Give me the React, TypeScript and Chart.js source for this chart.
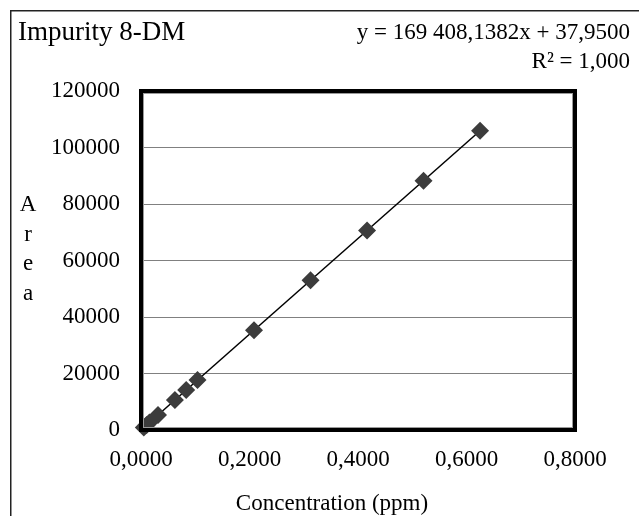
import React, { useEffect, useRef } from "react";
import { Chart, registerables } from "chart.js";

Chart.register(...registerables);

const concentrations = [0.0052, 0.0104, 0.0156, 0.0313, 0.0625, 0.0833, 0.1042, 0.2083, 0.3125, 0.4167, 0.5208, 0.625];
const areas = [920, 1800, 2680, 5330, 10630, 14150, 17690, 35330, 52980, 70630, 88270, 105900];
const slope = 169408.1382;
const intercept = 37.95;
const trendX = [0, 0.625];
const xTicks = [0, 0.2, 0.4, 0.6, 0.8];
const yTicks = [0, 20000, 40000, 60000, 80000, 100000, 120000];
const titleText = "Impurity 8-DM";
const equationText = "y = 169 408,1382x + 37,9500";
const r2Text = "R² = 1,000";
const yTitle = "Area";
const xTitle = "Concentration (ppm)";

const FONT = "'Liberation Serif', 'Times New Roman', serif";

export default function App() {
  const ref = useRef<HTMLCanvasElement | null>(null);
  useEffect(() => {
    if (!ref.current) return;
    const deco = {
      id: "deco",
      beforeDraw(chart: any) {
        const ctx = chart.ctx;
        ctx.save();
        ctx.fillStyle = "#fff";
        ctx.fillRect(0, 0, chart.width, chart.height);
        ctx.strokeStyle = "#222";
        ctx.lineWidth = 1.5;
        ctx.beginPath();
        ctx.moveTo(2.75, chart.height);
        ctx.lineTo(2.75, 2.75);
        ctx.lineTo(chart.width, 2.75);
        ctx.stroke();
        ctx.restore();
      },
      afterDraw(chart: any) {
        const ctx = chart.ctx;
        const a = chart.chartArea;
        ctx.save();
        ctx.strokeStyle = "#000";
        ctx.lineWidth = 4;
        ctx.strokeRect(a.left, a.top, a.right - a.left, a.bottom - a.top);
        ctx.strokeStyle = "#9a9a9a";
        ctx.lineWidth = 1;
        ctx.strokeRect(a.left + 2.5, a.top + 2.5, a.right - a.left - 5, a.bottom - a.top - 5);
        ctx.fillStyle = "#000";
        ctx.textBaseline = "middle";
        ctx.font = `27px ${FONT}`;
        ctx.textAlign = "left";
        ctx.fillText(titleText, 10, 25);
        ctx.font = `23px ${FONT}`;
        ctx.textAlign = "right";
        ctx.fillText(equationText, 622, 25);
        ctx.fillText(r2Text, 622, 54);
        ctx.textAlign = "center";
        yTitle.split("").forEach((ch, i) => {
          ctx.fillText(ch, 20, 197 + i * 29.5);
        });
        ctx.fillText(xTitle, 324, 496);
        ctx.restore();
      },
    };
    const chart = new Chart(ref.current, {
      type: "scatter",
      data: {
        datasets: [
          {
            type: "line",
            data: trendX.map((x) => ({ x, y: slope * x + intercept })),
            borderColor: "#000",
            borderWidth: 1.5,
            pointRadius: 0,
            fill: false,
            order: 2,
          } as any,
          {
            data: concentrations.map((x, i) => ({ x, y: areas[i] })),
            pointStyle: "rectRot",
            pointRadius: 9,
            backgroundColor: "#3c3c3c",
            borderColor: "#3c3c3c",
            borderWidth: 0,
            clip: false,
            order: 1,
          } as any,
        ],
      },
      options: {
        animation: false,
        responsive: false,
        layout: { padding: { top: 83, right: 64, left: 0, bottom: 0 } },
        plugins: { legend: { display: false }, tooltip: { enabled: false } },
        scales: {
          x: {
            type: "linear",
            min: 0,
            max: 0.8,
            afterBuildTicks: (s: any) => {
              s.ticks = xTicks.map((v) => ({ value: v }));
            },
            afterFit: (s: any) => {
              s.height = 86;
            },
            grid: { display: false, drawTicks: false },
            border: { display: false },
            ticks: {
              color: "#000",
              font: { family: FONT, size: 23 },
              padding: 16,
              maxRotation: 0,
              callback: (v: any) => Number(v).toFixed(4).replace(".", ","),
            },
          },
          y: {
            type: "linear",
            min: 0,
            max: 120000,
            afterBuildTicks: (s: any) => {
              s.ticks = yTicks.map((v) => ({ value: v }));
            },
            afterFit: (s: any) => {
              s.width = 133;
            },
            grid: { color: "#808080", lineWidth: 1, drawTicks: false },
            border: { display: false },
            ticks: {
              color: "#000",
              font: { family: FONT, size: 23 },
              padding: 21,
              callback: (v: any) => String(v),
            },
          },
        },
      },
      plugins: [deco],
    } as any);
    return () => chart.destroy();
  }, []);
  return (
    <div style={{ position: "fixed", left: 8, top: 8, width: 631, height: 508 }}>
      <canvas ref={ref} width={631} height={508} style={{ display: "block" }} />
    </div>
  );
}
